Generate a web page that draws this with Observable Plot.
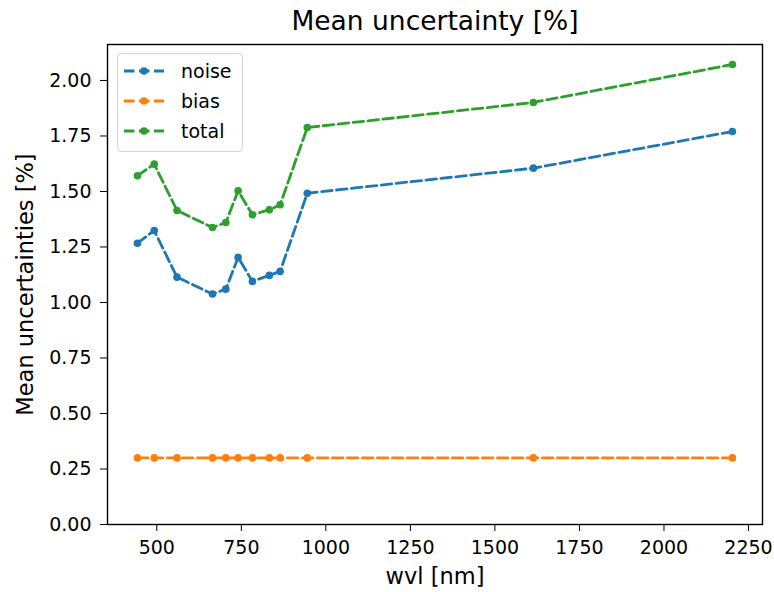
<!DOCTYPE html>
<html><head><meta charset="utf-8">
<script src="https://cdn.jsdelivr.net/npm/d3@7"></script>
<script src="https://cdn.jsdelivr.net/npm/@observablehq/plot@0.6"></script>
<style>
body{margin:0;background:#fff;}
#wrap{position:relative;width:774px;height:592px;font-family:"DejaVu Sans",sans-serif;}
#legend{position:absolute;left:117px;top:53px;width:124px;height:97px;border:1px solid #d6d6d6;border-radius:4px;background:rgba(255,255,255,0.8);}
</style>
</head><body><div id="wrap"></div>
<script>
const wavelengths = [442.7, 492.4, 559.8, 664.6, 704.1, 740.5, 782.8, 832.8, 864.7, 945.1, 1613.7, 2202.4];
const noise = [1.267, 1.324, 1.114, 1.038, 1.060, 1.203, 1.095, 1.122, 1.140, 1.492, 1.605, 1.770];
const bias  = [0.30, 0.30, 0.30, 0.30, 0.30, 0.30, 0.30, 0.30, 0.30, 0.30, 0.30, 0.30];
const total = [1.571, 1.623, 1.414, 1.338, 1.360, 1.503, 1.395, 1.418, 1.440, 1.788, 1.901, 2.072];
const seriesNames = ["noise", "bias", "total"];
const seriesColors = ["#1f77b4", "#ff7f0e", "#2ca02c"];
const xTicks = [500, 750, 1000, 1250, 1500, 1750, 2000, 2250];
const yTicks = [0, 0.25, 0.5, 0.75, 1.0, 1.25, 1.5, 1.75, 2.0];
const titleText = "Mean uncertainty [%]";
const xLabel = "wvl [nm]";
const yLabel = "Mean uncertainties [%]";

const seriesValues = [noise, bias, total];
const rows = [];
seriesNames.forEach((s, i) => {
  wavelengths.forEach((w, j) => rows.push({series: s, wvl: w, value: seriesValues[i][j]}));
});

const dash = "10.5,4.5";
const chart = Plot.plot({
  width: 774, height: 592,
  marginLeft: 107, marginRight: 12, marginTop: 44, marginBottom: 68,
  style: {fontFamily: "DejaVu Sans", fontSize: "19px", color: "#000", background: "white", overflow: "visible"},
  x: {domain: [354.2, 2291.4]},
  y: {domain: [0, 2.162]},
  color: {domain: seriesNames, range: seriesColors},
  marks: [
    Plot.axisX({ticks: xTicks, tickFormat: d3.format("d"), tickSize: 7, tickPadding: 9, fontSize: 19, label: null}),
    Plot.axisY({ticks: yTicks, tickFormat: d3.format(".2f"), tickSize: 7, tickPadding: 9, fontSize: 19, label: null}),
    Plot.line(rows, {x: "wvl", y: "value", z: "series", stroke: "series", strokeWidth: 2.8, strokeDasharray: dash}),
    Plot.dot(rows, {x: "wvl", y: "value", fill: "series", r: 3.8}),
    Plot.frame({stroke: "#000", strokeWidth: 1.4}),
    Plot.text([titleText], {frameAnchor: "top", lineAnchor: "middle", dy: -23, fontSize: 26.5, fill: "#000"}),
    Plot.text([xLabel], {frameAnchor: "bottom", lineAnchor: "middle", dy: 52, fontSize: 22.5, fill: "#000"}),
    Plot.text([yLabel], {frameAnchor: "left", textAnchor: "middle", lineAnchor: "middle", rotate: -90, dx: -82, fontSize: 22.5, fill: "#000"})
  ]
});
const wrap = document.getElementById("wrap");
wrap.appendChild(chart);

// legend
const leg = document.createElement("div");
leg.id = "legend";
wrap.appendChild(leg);
const lsvg = d3.select(leg).append("svg").attr("width", 124).attr("height", 97);
seriesNames.forEach((s, i) => {
  const y = 17 + i * 30;
  const g = lsvg.append("g");
  g.append("line").attr("x1", 6).attr("x2", 46).attr("y1", y).attr("y2", y)
    .attr("stroke", seriesColors[i]).attr("stroke-width", 2.8).attr("stroke-dasharray", dash);
  g.append("circle").attr("cx", 26).attr("cy", y).attr("r", 3.8).attr("fill", seriesColors[i]);
  g.append("text").attr("x", 63).attr("y", y).attr("dy", "0.35em")
    .attr("font-family", "DejaVu Sans").attr("font-size", 19).attr("fill", "#000").text(s);
});
</script>
</body></html>
